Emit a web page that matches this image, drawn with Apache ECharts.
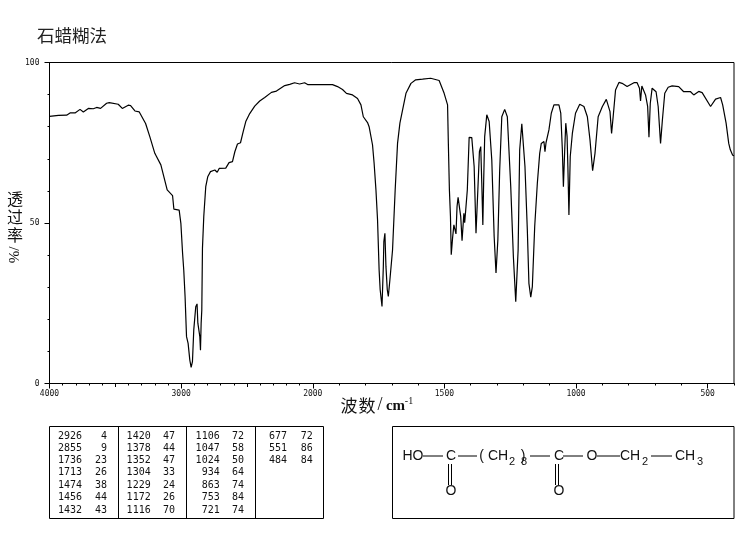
<!DOCTYPE html>
<html>
<head>
<meta charset="utf-8">
<style>html,body{margin:0;padding:0;background:#fff}#c{width:743px;height:539px}</style>
<script src="https://cdn.jsdelivr.net/npm/echarts@6/dist/echarts.min.js"></script>
</head>
<body>
<div id="c"></div>
<script>
const titleText = '石蜡糊法';
const wavenumbers = [4000,3932,3870,3844,3806,3768,3743,3705,3667,3642,3612,3566,3546,3478,3447,3402,3384,3351,3318,3270,3238,3200,3154,3106,3065,3055,3015,3002,2989,2980,2970,2959,2947,2934,2924,2914,2904,2889,2879,2873,2858,2853,2848,2843,2838,2828,2813,2798,2777,2744,2726,2711,2661,2636,2610,2592,2572,2549,2529,2509,2479,2441,2403,2365,2314,2276,2213,2175,2138,2100,2062,2036,2000,1925,1906,1887,1872,1849,1830,1817,1808,1792,1786,1773,1767,1760,1754,1748,1744,1737,1732,1730,1726,1722,1717,1713,1707,1697,1687,1678,1669,1659,1646,1627,1609,1583,1552,1520,1501,1488,1485,1481,1477,1474,1469,1464,1460,1456,1452,1448,1442,1438,1433,1426,1423,1419,1413,1406,1396,1387,1380,1373,1367,1362,1358,1354,1351,1347,1339,1330,1320,1311,1304,1297,1290,1282,1271,1261,1248,1238,1229,1220,1214,1206,1201,1194,1185,1179,1172,1166,1157,1147,1138,1132,1122,1118,1114,1108,1103,1094,1084,1065,1058,1052,1048,1043,1039,1034,1031,1027,1022,1014,1002,986,970,957,947,937,928,916,900,885,878,871,865,859,850,837,825,806,780,768,759,755,750,745,736,728,723,718,711,704,696,688,679,672,663,650,635,610,591,565,553,534,521,489,470,451,443,430,420,414,405,400];
const transmittance = [83.2,83.5,83.6,84.3,84.3,85.4,84.6,85.7,85.6,86.0,85.7,87.3,87.5,87.0,85.7,86.7,86.6,84.9,84.6,81.0,76.9,71.7,68.1,60.3,58.5,54.3,54.0,49.9,40.6,35.3,27.0,14.6,12.5,7.3,5.0,6.8,16.7,23.9,24.8,18.8,14.6,10.4,18.8,22.9,42.1,52.0,61.3,64.4,66.0,66.5,65.8,67.0,67.1,68.8,69.1,72.2,74.6,75.0,78.4,81.6,84.1,86.4,88.0,89.1,90.7,91.1,92.8,93.2,93.7,93.3,93.7,93.1,93.1,93.1,92.5,91.6,90.4,89.9,88.8,86.8,83.1,81.3,80.0,74.3,68.6,60.3,51.0,35.4,29.2,24.0,36.4,44.2,46.8,36.4,29.2,27.1,32.3,41.6,60.3,74.8,81.1,85.2,90.4,93.5,94.6,94.8,95.1,94.4,90.4,86.8,74.8,60.3,52.0,40.1,45.3,49.4,48.9,46.6,55.1,58.0,57.5,52.0,44.5,53.0,50.1,54.1,60.3,76.7,76.6,67.6,46.8,60.3,72.2,73.8,62.4,49.4,62.4,76.9,83.7,81.6,69.6,45.8,34.4,44.7,66.5,83.1,85.4,83.1,61.3,39.5,25.5,41.6,72.8,80.9,80.5,67.6,47.8,31.2,26.9,30.2,48.9,62.4,71.7,74.8,75.4,72.2,75.0,74.5,79.0,84.2,86.8,86.8,84.2,72.8,61.3,72.8,81.1,76.9,67.6,52.5,70.7,77.9,84.2,87.0,86.3,83.1,75.9,66.3,71.7,83.1,86.3,88.5,88.3,84.7,77.9,83.1,91.4,93.8,93.5,92.5,93.7,93.7,92.0,88.0,92.7,92.8,89.9,86.3,76.7,87.3,92.0,92.3,90.9,86.3,74.8,82.1,90.4,92.3,92.7,92.5,90.9,90.9,89.9,91.0,90.6,86.3,88.6,89.1,86.8,81.1,74.8,72.8,71.1,71.0];
const peakWave = [2926,2855,1736,1713,1474,1456,1432,1420,1378,1352,1304,1229,1172,1116,1106,1047,1024,934,863,753,721,677,551,484];
const peakT = [4,9,23,26,38,44,43,47,44,47,33,24,26,70,72,58,50,64,74,84,74,72,86,84];
const xLabelTicks = [4000,3000,2000,1500,1000,500];
const xMidTicks = [3500,2500];
const yLabelTicks = [0,50,100];

// The chart's wavenumber scale changes at 2000 cm-1: twice as compressed above it.
const wnToAxis = w => w >= 2000 ? (4000 - w) / 2 : 3000 - w;
const axisToWn = p => p <= 1000 ? 4000 - 2 * p : 3000 - p;

const xMinor = [];
for (let w = 4000; w >= 400; w -= 100) xMinor.push(wnToAxis(w));

const tableCols = [[82,107],[150.7,175],[219.7,244],[287,312.7]];
const rowY = [436,448,460.5,472.7,485,497.5,510];
const mono = '"DejaVu Sans Mono"';
const g = [];
const txt = (text,x,y,o) => g.push({type:'text',x,y,silent:true,rotation:(o&&o.rot)||0,style:Object.assign({text,fill:'#111',align:'center',verticalAlign:'middle',font:(o&&o.font)||'13px "Liberation Sans"'},o&&o.style||{})});
const seg = (x1,y1,x2,y2,w) => g.push({type:'line',silent:true,shape:{x1,y1,x2,y2},style:{stroke:'#000',lineWidth:w||1}});
const box = (x,y,w,h) => g.push({type:'rect',silent:true,shape:{x,y,width:w,height:h},style:{fill:'none',stroke:'#000',lineWidth:1}});

// Peak table
box(49.5,426.5,274,92);
[118.5,186.5,255.5].forEach(x => seg(x,426.5,x,518.5));
peakWave.forEach((w,i) => {
  const c = tableCols[Math.floor(i/7)], y = rowY[i%7];
  txt(String(w),c[0],y,{font:'10px '+mono,style:{align:'right'}});
  txt(String(peakT[i]),c[1],y,{font:'10px '+mono,style:{align:'right'}});
});

// Structure box
box(392.5,426.5,341.5,92);
const sf = '14px "Liberation Sans"', ss = '11px "Liberation Sans"';
[['HO',413],['C',451],['(',481.5],['CH',498],[')',523],['C',559],['O',592],['CH',630],['CH',685]].forEach(a => txt(a[0],a[1],456.5,{font:sf}));
[['2',512],['2',645],['3',700],['8',524]].forEach(a => txt(a[0],a[1],461.5,{font:ss}));
[451,559].forEach(x => txt('O',x,491.5,{font:sf}));
[[423,443],[458,477],[530,550],[563,583],[597,620],[651,672]].forEach(b => seg(b[0],456,b[1],456));
[448.5,451.5,555.5,558.5].forEach(x => seg(x,464,x,485));

// Axis titles
['透','过','率'].forEach((c,i) => txt(c,15,199+18*i,{font:'16px "Noto Sans CJK SC"'}));
txt('%/',15,255,{font:'15px "Liberation Serif"',rot:Math.PI/2});
txt('波',349,405.5,{font:'17px "Noto Sans CJK SC"'});
txt('数',367,405.5,{font:'17px "Noto Sans CJK SC"'});
txt('/',380,405.5,{font:'18px "Liberation Serif"'});
txt('cm',395.5,406.5,{font:'bold 15px "Liberation Serif"'});
txt('-1',409,401,{font:'10px "Liberation Serif"'});

const chart = echarts.init(document.getElementById('c'));
const xBase = {type:'value',min:0,max:2600,position:'bottom',splitLine:{show:false},
  axisLine:{show:true,lineStyle:{color:'#000',width:1}}};
const yBase = {type:'value',min:0,max:100,interval:10,position:'left',splitLine:{show:false},
  axisLine:{show:true,lineStyle:{color:'#000',width:1}}};
chart.setOption({
  animation:false,
  backgroundColor:'#fff',
  title:{text:titleText,left:37,top:27,padding:0,textStyle:{fontFamily:'"Noto Sans CJK SC"',fontSize:17.5,fontWeight:'normal',color:'#222'}},
  grid:{left:49.5,top:62.5,width:684.5,height:321,show:true,borderColor:'#000',borderWidth:1,backgroundColor:'transparent'},
  xAxis:[
    Object.assign({},xBase,{
      axisTick:{show:true,length:5,lineStyle:{color:'#000'},customValues:xLabelTicks.map(wnToAxis)},
      axisLabel:{show:true,margin:6,fontFamily:mono,fontSize:8,color:'#111',showMinLabel:true,showMaxLabel:true,
        customValues:xLabelTicks.map(wnToAxis),formatter:v => String(Math.round(axisToWn(v)))}
    }),
    Object.assign({},xBase,{
      axisTick:{show:true,length:3.5,lineStyle:{color:'#000'},customValues:xMidTicks.map(wnToAxis)},
      axisLabel:{show:false}
    }),
    Object.assign({},xBase,{
      axisTick:{show:true,length:2,lineStyle:{color:'#000'},customValues:xMinor},
      axisLabel:{show:false}
    })
  ],
  yAxis:[
    Object.assign({},yBase,{
      axisTick:{show:true,length:5,lineStyle:{color:'#000'},customValues:yLabelTicks},
      axisLabel:{show:true,margin:10,fontFamily:mono,fontSize:8,color:'#111',customValues:yLabelTicks}
    }),
    Object.assign({},yBase,{
      axisTick:{show:true,length:2,lineStyle:{color:'#000'}},
      axisLabel:{show:false}
    })
  ],
  series:[{
    type:'line',xAxisIndex:0,yAxisIndex:0,showSymbol:false,symbol:'none',smooth:false,clip:true,
    lineStyle:{color:'#000',width:1.2},
    data:wavenumbers.map((w,i) => [wnToAxis(w),transmittance[i]])
  }],
  graphic:{elements:g}
});
</script>
</body>
</html>
